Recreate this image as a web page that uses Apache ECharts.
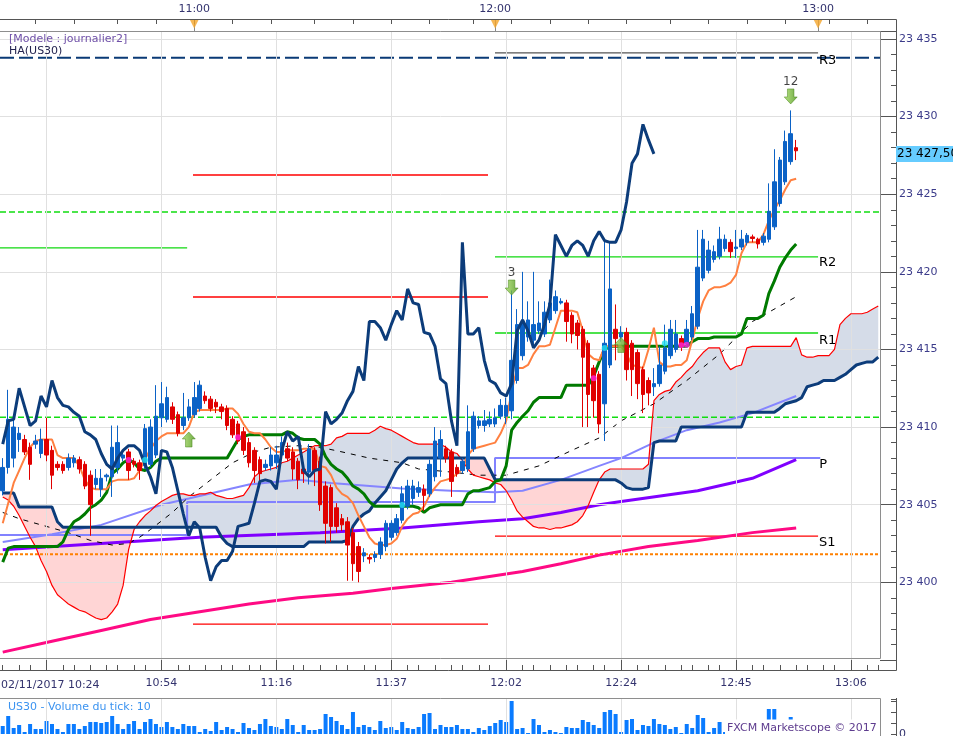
<!DOCTYPE html>
<html><head><meta charset="utf-8">
<script src="https://cdn.jsdelivr.net/npm/echarts@6.0.0/dist/echarts.min.js"></script>
<style>html,body{margin:0;padding:0;background:#fff;}#c{width:953px;height:736px;}</style>
</head><body><div id="c"></div>
<script>
// ---------------- DATA ----------------
const slots = []; for (let i = 0; i < 161; i++) slots.push(String(i));

const bottomTickIdx = [8, 29, 50, 71, 92, 113, 134, 155];
const bottomTickLabels = ['02/11/2017 10:24', '10:54', '11:16', '11:37', '12:02', '12:24', '12:45', '13:06'];
const topTickIdx = [35, 90, 149];
const topTickLabels = ['11:00', '12:00', '13:00'];
const priceTicks = [23400, 23405, 23410, 23415, 23420, 23425, 23430, 23435];

const haOpen = [
23405.9,23407.4,23408.0,23409.2,23409.2,23408.7,23408.9,23408.3,23409.2,23408.5,
23407.6,23407.6,23407.4,23407.7,23407.9,23407.6,23406.9,23406.3,23406.0,23406.8,
23406.8,23407.4,23408.0,23408.4,23407.8,23407.7,23407.5,23407.6,23408.2,23410.6,
23410.5,23411.3,23410.8,23410.1,23410.6,23410.8,23411.2,23412.0,23411.8,23411.6,
23411.3,23411.2,23410.5,23410.2,23409.7,23409.0,23408.5,23407.9,23407.4,23407.5,
23407.7,23408.2,23408.6,23408.4,23407.8,23407.3,23407.1,23408.5,23407.8,23406.2,
23406.1,23404.8,23404.1,23403.9,23403.2,23402.3,23401.7,23401.6,23401.6,23401.8,
23402.3,23402.9,23403.2,23404.0,23404.9,23405.4,23405.8,23406.0,23405.7,23406.8,
23408.0,23408.6,23408.4,23407.4,23407.2,23407.3,23408.6,23410.1,23410.1,23410.2,
23410.2,23410.7,23410.7,23411.05,23413.0,23414.6,23415.8,23415.6,23416.2,23416.0,
23416.9,23417.5,23418.0,23418.0,23417.2,23416.7,23416.3,23415.4,23413.8,23413.4,
23411.5,23414.0,23416.3,23415.8,23416.1,23415.4,23414.8,23413.7,23413.0,23412.6,
23412.8,23413.6,23414.6,23415.0,23415.7,23415.4,23415.8,23416.5,23419.6,23420.1,
23420.8,23421.0,23421.5,23421.9,23421.5,23421.6,23421.9,23422.25,23422.1,23421.9,
23422.1,23422.9,23424.4,23425.8,23427.1,23428.0];
const haClose = [
23407.4,23410.5,23410.0,23409.6,23408.4,23407.6,23409.1,23409.2,23408.2,23406.9,
23407.4,23407.2,23408.0,23408.0,23407.3,23406.2,23405.0,23406.7,23406.7,23406.9,
23408.7,23409.0,23408.2,23407.2,23407.6,23407.2,23409.9,23410.0,23410.7,23411.5,
23411.9,23410.5,23409.6,23410.6,23411.3,23411.9,23412.7,23411.7,23411.2,23411.3,
23411.0,23410.1,23409.5,23409.1,23408.5,23407.7,23407.2,23407.0,23407.6,23408.2,
23408.2,23409.0,23408.0,23407.3,23406.6,23407.0,23408.6,23407.2,23405.0,23403.8,
23403.6,23403.6,23403.7,23402.4,23401.2,23400.7,23401.9,23401.5,23401.8,23402.6,
23403.8,23403.8,23404.1,23405.7,23406.2,23406.2,23406.1,23405.6,23407.6,23409.1,
23409.2,23408.0,23406.5,23407.0,23407.8,23409.7,23410.7,23410.4,23410.4,23410.5,
23410.6,23411.4,23411.4,23414.3,23416.6,23416.7,23416.9,23416.6,23416.7,23417.4,
23418.0,23418.4,23418.1,23416.8,23416.0,23415.9,23414.5,23412.1,23411.7,23410.2,
23415.4,23418.9,23415.7,23416.1,23413.7,23413.7,23412.8,23412.1,23412.2,23412.8,
23414.0,23415.1,23416.3,23416.0,23415.2,23416.3,23417.3,23420.3,23422.1,23421.4,
23421.3,23422.1,23422.1,23421.3,23421.6,23422.1,23422.35,23422.15,23421.8,23422.3,
23423.9,23425.8,23427.2,23428.4,23428.9,23427.8];
const haLow = [
23405.6,23407.0,23407.4,23408.4,23408.2,23406.6,23408.6,23408.0,23407.8,23406.0,
23407.2,23407.0,23407.2,23407.4,23407.0,23406.0,23403.0,23406.0,23405.5,23406.5,
23405.5,23407.0,23407.8,23406.6,23407.4,23406.6,23407.3,23407.4,23408.0,23410.0,
23410.3,23410.2,23409.4,23409.8,23410.4,23410.6,23411.0,23411.5,23411.0,23410.9,
23410.5,23409.8,23409.3,23408.9,23408.2,23407.4,23406.4,23406.5,23407.2,23407.2,
23407.3,23407.9,23407.8,23406.6,23406.0,23406.4,23406.3,23406.2,23404.6,23402.5,
23402.6,23403.2,23403.3,23400.1,23400.1,23400.0,23401.3,23401.2,23401.3,23401.5,
23402.0,23402.7,23403.0,23403.8,23404.7,23405.0,23405.5,23404.6,23405.5,23406.5,
23406.8,23407.7,23405.5,23406.8,23407.0,23407.1,23408.4,23409.9,23409.7,23410.0,
23410.0,23410.5,23410.2,23410.5,23412.8,23414.3,23415.5,23415.3,23416.0,23415.8,
23416.7,23417.3,23417.9,23415.5,23415.4,23415.0,23410.0,23410.0,23410.6,23409.6,
23409.1,23413.8,23414.3,23415.5,23413.0,23412.0,23411.8,23410.9,23411.4,23412.0,
23412.6,23413.4,23414.4,23414.8,23414.9,23415.2,23415.6,23416.3,23419.4,23419.9,
23420.6,23420.8,23421.3,23420.9,23420.9,23421.4,23421.7,23421.9,23421.5,23421.7,
23421.9,23422.7,23424.2,23425.6,23426.9,23427.2];
const haHigh = [
23408.0,23412.4,23410.6,23410.0,23409.5,23409.0,23409.5,23409.9,23410.6,23408.8,
23407.8,23407.8,23408.3,23408.2,23408.1,23407.8,23407.2,23407.3,23407.3,23407.0,
23410.1,23410.1,23408.5,23408.6,23408.0,23407.9,23410.2,23410.5,23412.7,23412.9,
23412.6,23411.6,23411.0,23412.2,23411.8,23412.9,23413.0,23412.3,23412.0,23411.8,
23411.5,23411.4,23410.7,23410.4,23410.0,23409.3,23408.7,23408.1,23407.9,23408.7,
23408.8,23409.4,23409.0,23408.7,23408.0,23407.6,23408.9,23408.7,23408.1,23406.5,
23406.3,23405.1,23404.4,23404.2,23403.5,23402.6,23402.2,23401.8,23402.0,23402.9,
23404.0,23404.0,23404.4,23406.2,23406.6,23406.6,23406.5,23406.3,23407.9,23410.0,
23409.8,23408.8,23408.6,23407.6,23408.0,23411.4,23411.0,23410.7,23411.1,23411.0,
23411.2,23411.8,23411.9,23418.8,23417.6,23420.0,23418.1,23420.0,23418.1,23418.1,
23419.5,23418.8,23418.3,23418.2,23417.4,23416.9,23416.5,23415.6,23414.0,23413.6,
23422.1,23421.9,23417.9,23416.5,23416.4,23415.6,23415.0,23413.9,23413.2,23413.8,
23415.2,23416.6,23416.9,23416.9,23415.9,23416.9,23417.8,23422.7,23422.7,23422.0,
23421.7,23422.9,23422.4,23422.1,23422.7,23422.7,23422.5,23422.4,23422.2,23422.5,
23425.7,23427.9,23427.4,23429.1,23430.4,23428.5];

const tickVolume = [
8,18,6,9,2,10,5,5,13,10, 5,2,10,10,5,8,12,12,11,12, 18,10,5,10,13,5,12,15,10,7,
12,7,5,10,8,8,2,5,3,12, 4,7,5,2,11,6,4,10,15,8, 7,5,15,9,2,9,4,4,5,20,
17,13,9,5,22,7,9,7,4,13, 6,7,4,12,6,5,7,20,21,5, 9,7,7,9,5,5,2,6,4,8,
11,14,12,33,5,6,1,15,9,2, 4,2,1,7,6,6,14,12,9,6, 22,24,20,2,14,15,4,9,8,15,
10,9,5,7,1,10,6,19,16,2, 6,12,2,8,10,12,6,9,7,11, 25,25,10,8,17,10];

const tenkan = [
23403.8,23405.1,23406.4,23407.2,23408.0,23408.7,23409.1,23409.2,23409.2,23409.2,
23408.2,23408.0,23408.0,23408.0,23407.5,23406.6,23406.1,23406.0,23406.0,23406.0,
23406.5,23406.6,23406.6,23406.6,23406.7,23407.2,23407.9,23408.6,23409.1,23409.4,
23409.6,23409.6,23409.6,23409.6,23410.0,23410.95,23411.1,23411.1,23411.1,23411.1,
23411.1,23411.2,23411.2,23410.85,23410.2,23409.7,23409.6,23409.6,23409.2,23408.7,
23408.4,23408.4,23408.5,23408.5,23408.5,23408.6,23408.6,23408.6,23407.5,23407.4,
23406.9,23406.1,23405.7,23405.5,23405.1,23404.3,23403.6,23402.9,23402.5,23402.4,
23402.4,23402.5,23402.8,23403.6,23404.1,23404.4,23404.5,23404.9,23405.6,23406.1,
23406.5,23406.6,23406.7,23407.0,23407.3,23408.2,23408.6,23408.7,23408.8,23408.9,
23409.0,23409.6,23410.4,23412.3,23413.8,23413.8,23414.0,23414.7,23415.2,23415.2,
23415.3,23416.4,23417.5,23417.5,23417.5,23417.4,23416.2,23414.7,23414.4,23414.3,
23415.2,23415.2,23415.2,23415.2,23414.7,23414.0,23413.9,23413.8,23415.0,23416.4,
23414.2,23413.9,23413.9,23414.0,23414.0,23414.3,23415.6,23417.0,23418.1,23418.8,
23419.0,23419.0,23419.1,23419.3,23419.8,23421.2,23421.9,23421.9,23421.9,23422.4,
23423.3,23424.0,23424.6,23425.3,23425.9,23426.0];

const kijun = [
23401.3,23402.2,23402.3,23402.3,23402.3,23402.3,23402.3,23402.3,23402.3,23402.3,
23402.3,23402.6,23403.4,23403.9,23404.1,23404.4,23404.8,23405.0,23405.3,23405.8,
23407.0,23407.3,23407.7,23407.9,23407.7,23407.3,23407.2,23407.4,23407.8,23408.0,
23408.0,23408.0,23408.0,23408.0,23408.0,23408.0,23408.0,23408.0,23408.0,23408.0,
23408.0,23408.0,23408.6,23409.2,23409.4,23409.5,23409.5,23409.5,23409.5,23409.5,
23409.5,23409.5,23409.7,23409.6,23409.3,23409.2,23409.2,23409.2,23408.9,23408.1,
23407.6,23407.3,23407.1,23406.7,23406.2,23406.0,23405.7,23405.2,23404.9,23404.9,
23404.9,23404.9,23404.9,23404.9,23404.9,23404.9,23404.8,23404.5,23404.8,23404.9,
23405.0,23405.0,23405.0,23405.0,23405.0,23405.7,23405.9,23405.9,23406.0,23406.1,
23406.5,23406.6,23407.5,23409.8,23410.3,23410.7,23411.05,23411.6,23411.9,23411.9,
23411.9,23411.9,23411.9,23412.7,23412.7,23412.7,23412.7,23412.7,23413.3,23414.2,
23415.0,23415.2,23415.2,23415.2,23415.2,23415.2,23415.2,23415.2,23415.2,23415.2,
23415.2,23415.2,23415.2,23415.2,23415.2,23415.2,23415.5,23415.7,23415.7,23415.7,
23415.8,23415.8,23415.8,23415.8,23415.8,23416.0,23417.0,23417.0,23417.0,23417.2,
23418.6,23419.4,23420.3,23420.9,23421.4,23421.8];

const chikou = [
23408.9,23410.4,23410.5,23412.5,23411.3,23410.1,23410.4,23412.0,23411.3,23413.0,
23411.9,23411.4,23411.3,23410.95,23410.7,23409.7,23409.5,23409.2,23408.3,23407.6,
23407.3,23408.0,23408.5,23408.8,23408.8,23408.5,23407.6,23406.8,23405.7,23408.5,
23408.4,23407.4,23405.9,23404.4,23403.0,23403.9,23403.5,23401.6,23400.1,23401.0,
23401.4,23401.4,23402.0,23403.6,23403.7,23403.8,23405.1,23406.5,23406.6,23406.5,
23406.0,23408.5,23409.7,23409.1,23409.4,23407.2,23406.8,23407.2,23407.3,23411.0,
23410.2,23410.5,23410.9,23411.7,23412.3,23413.9,23413.0,23416.8,23416.8,23416.4,
23415.6,23416.6,23417.5,23416.9,23418.9,23418.0,23417.9,23416.1,23416.0,23415.2,
23413.1,23412.8,23410.4,23408.8,23421.9,23416.0,23416.0,23416.4,23414.3,23413.0,
23412.8,23412.2,23412.0,23412.8,23416.2,23416.9,23416.2,23415.1,23415.6,23416.6,
23417.9,23422.4,23421.7,23421.0,23421.7,23422.0,23421.7,23421.0,23422.0,23422.6,
23422.0,23421.9,23421.9,23422.7,23424.5,23427.0,23427.6,23429.5,23428.5,23427.6];

const senkouA = [
23405.5,23405.3,23404.9,23404.3,23403.6,23402.9,23402.3,23401.4,23400.7,23399.8,
23399.2,23398.9,23398.6,23398.4,23398.2,23398.1,23397.9,23397.7,23397.6,23397.7,
23398.1,23398.6,23399.8,23402.1,23403.4,23403.9,23404.3,23404.6,23404.95,23405.2,
23405.4,23405.6,23405.7,23405.7,23405.6,23405.6,23405.7,23405.7,23405.8,23405.6,
23405.5,23405.4,23405.4,23405.5,23405.6,23406.1,23406.8,23407.1,23407.2,23407.3,
23407.4,23407.7,23407.8,23408.0,23408.2,23408.4,23408.6,23408.8,23408.8,23408.8,
23408.9,23409.3,23409.4,23409.6,23409.6,23409.6,23409.6,23409.6,23409.8,23410.05,
23409.9,23409.8,23409.6,23409.4,23409.2,23409.0,23408.9,23408.9,23408.9,23408.9,
23408.9,23408.7,23408.4,23408.3,23407.85,23407.3,23406.9,23406.8,23406.7,23406.6,
23406.4,23406.3,23405.9,23405.3,23404.6,23404.2,23403.9,23403.6,23403.5,23403.5,
23403.4,23403.5,23403.5,23403.6,23403.7,23403.9,23404.3,23404.95,23405.8,23406.6,
23407.1,23407.3,23407.3,23407.3,23407.3,23407.3,23407.3,23407.3,23407.6,23411.7,
23412.1,23412.3,23412.4,23412.9,23413.2,23413.6,23413.9,23414.4,23414.8,23415.1,
23415.1,23415.1,23414.2,23413.7,23413.9,23414.0,23415.1,23415.2,23415.2,23415.2,
23415.2,23415.2,23415.2,23415.2,23415.2,23415.76,23414.65,23414.5,23414.5,23414.6,
23414.6,23414.6,23415.0,23416.6,23417.0,23417.3,23417.3,23417.3,23417.4,23417.6,
23417.8];
const senkouB = [
23405.75,23405.75,23405.75,23404.85,23404.85,23404.85,23404.85,23404.85,23404.85,23404.85,
23403.9,23403.55,23403.55,23403.55,23403.55,23403.55,23403.55,23403.55,23403.55,23403.55,
23403.55,23403.55,23403.55,23403.55,23403.55,23403.55,23403.55,23403.55,23403.55,23403.55,
23403.55,23403.55,23403.55,23403.55,23403.55,23403.55,23403.55,23403.55,23403.55,23403.55,
23402.9,23402.5,23402.3,23402.3,23402.3,23402.3,23402.3,23402.3,23402.3,23402.3,
23402.3,23402.3,23402.3,23402.3,23402.3,23402.3,23402.6,23402.6,23402.6,23402.6,
23402.6,23402.6,23402.6,23402.7,23403.6,23404.1,23404.4,23404.6,23405.1,23405.5,
23405.9,23406.6,23407.3,23407.7,23408.0,23408.0,23408.0,23408.0,23408.0,23408.0,
23408.0,23408.0,23408.0,23408.0,23408.0,23408.0,23408.0,23408.0,23408.0,23407.3,
23406.6,23406.6,23406.6,23406.6,23406.6,23406.6,23406.6,23406.6,23406.6,23406.6,
23406.6,23406.6,23406.6,23406.6,23406.6,23406.6,23406.6,23406.6,23406.6,23406.6,
23406.6,23406.6,23406.6,23406.4,23406.1,23406.0,23406.0,23406.0,23406.1,23409.0,
23409.1,23409.1,23409.1,23409.1,23410.0,23410.0,23410.0,23410.0,23410.0,23410.0,
23410.0,23410.0,23410.0,23410.0,23410.0,23410.0,23410.95,23410.95,23410.95,23410.95,
23410.95,23410.95,23411.2,23411.5,23411.6,23411.7,23411.9,23412.6,23412.7,23412.8,
23413.0,23413.0,23413.0,23413.2,23413.4,23413.7,23414.0,23414.1,23414.2,23414.2,
23414.5];

// moving averages (sampled points: slot index, value)
const maLavIdx = [0, 9, 18, 29, 34, 45, 54, 60, 73, 82, 90, 95, 102, 109, 113, 119, 125, 131, 137, 145];
const maLavVal = [23402.6, 23403.1, 23403.7, 23405.0, 23405.4, 23406.3, 23406.6, 23406.4, 23406.05, 23405.9, 23405.8, 23405.9, 23406.6, 23407.5, 23408.0, 23409.0, 23409.8, 23410.3, 23410.9, 23412.0];
const maVioIdx = [0, 18, 36, 58, 73, 87, 95, 102, 109, 113, 127, 137, 145];
const maVioVal = [23402.1, 23402.5, 23402.9, 23403.2, 23403.5, 23403.9, 23404.1, 23404.5, 23405.0, 23405.2, 23405.9, 23406.7, 23407.9];
const maMagIdx = [0, 9, 18, 27, 36, 45, 54, 64, 71, 82, 95, 102, 109, 118, 127, 137, 145];
const maMagVal = [23395.5, 23396.2, 23396.9, 23397.6, 23398.1, 23398.6, 23399.0, 23399.3, 23399.6, 23400.0, 23400.7, 23401.2, 23401.75, 23402.3, 23402.7, 23403.2, 23403.5];
const regIdx = [0, 3, 7, 12, 16, 20, 23, 25, 27, 31, 34, 38, 42, 46, 49, 54, 58, 62, 67, 73, 76, 82, 87, 92, 98, 104, 109, 113, 119, 125, 131, 137, 145];
const regVal = [23404.5, 23404.1, 23403.7, 23403.2, 23402.7, 23402.4, 23402.5, 23402.9, 23403.4, 23404.5, 23405.5, 23406.6, 23407.7, 23408.4, 23408.7, 23408.8, 23408.7, 23408.4, 23408.0, 23407.7, 23407.3, 23407.1, 23406.9, 23406.9, 23407.5, 23408.5, 23409.3, 23410.4, 23411.5, 23413.0, 23414.7, 23416.8, 23418.4];

// horizontal levels (x in slot units)
const fullSpan = [-0.5, 160.5];
const hourSpans = [[-0.5, 33.7], [34.77, 88.68], [89.96, 149.0]];
const r3Level = 23433.80;
const r4Level = 23434.10;
const greenDashLevels = [23423.86, 23410.63];
const orangeDotLevel = 23401.80;
const hour0Green = [23421.54];
const hour1Red = [23426.24, 23418.38, 23397.31];
const pivotR2 = 23420.96, pivotR1 = 23416.06, pivotS1 = 23402.98;
const pivotPSteps = [23403.05, 23405.17, 23408.01];
const pivotPEnd = 149.4;

// signals
const downSignalIdx = [93, 144], downSignalVal = [23418.99, 23431.30], downSignalText = ['3', '12'];
const upSignalIdx = [34, 113], upSignalVal = [23409.2, 23415.29];
const magentaDotIdx = [23, 43, 108, 124, 125], magentaDotVal = [23407.88, 23409.35, 23413.15, 23415.27, 23415.3];
const cyanDotIdx = [26, 73, 110, 121], cyanDotVal = [23407.88, 23404.98, 23415.1, 23415.4];
const hourMarkLevel = 23435.97;
const lastPrice = '23 427,50';

// ---------------- CHART ----------------
const FONT = '"DejaVu Sans", Verdana, sans-serif';
const NAVY = '#33336e';
const UP = '#0b62c6', DOWN = '#e00000', DKBLUE = '#0c3c7a';

const bottomMajor = new Set(bottomTickIdx);
const bottomMinor = new Set();
for (let k = -3; k < 70; k++) { const v = Math.round(8 + k * 21 / 8); if (v >= 0 && v <= 160) bottomMinor.add(v); }
const topMinor = new Set();
for (let k = -5; k < 20; k++) { const v = Math.round(35 + k * 7.22); if (v >= 0 && v <= 160) topMinor.add(v); }
const topMajor = new Set(topTickIdx);

const pair = (idx, val) => idx.map((x, i) => [x, val[i]]);
const cloudLow = senkouA.map((a, i) => Math.min(a, senkouB[i]));
const cloudUp = senkouA.map((a, i) => Math.max(a - senkouB[i], 0));
const cloudDown = senkouA.map((a, i) => Math.max(senkouB[i] - a, 0));
const fmtPrice = v => String(v).replace(/(\d{2})(\d{3})$/, '$1 $2');

function seg(x0, x1, y, color, width, type, extra) {
  return Object.assign({type: 'line', xAxisIndex: 5, yAxisIndex: 0, data: [[x0, y], [x1, y]], symbol: 'none',
    silent: true, lineStyle: {color: color, width: width, type: type || 'solid'}, z: 3}, extra || {});
}
function endLbl(t, dy) {
  return {endLabel: {show: true, formatter: t, distance: 0, offset: [1, dy], color: '#000', fontSize: 13, fontFamily: FONT}};
}
const lineBase = (data, color, width, z, type) => ({type: 'line', xAxisIndex: 0, yAxisIndex: 0, data: data, symbol: 'none',
  silent: true, lineStyle: {color: color, width: width, type: type || 'solid'}, z: z});

const series = [];
series.push({type: 'line', xAxisIndex: 0, yAxisIndex: 0, data: cloudLow, stack: 'cloud', symbol: 'none', silent: true,
  lineStyle: {opacity: 0}, z: 1,
  markLine: {silent: true, symbol: ['none', 'none'], label: {show: false}, emphasis: {disabled: true},
    lineStyle: {color: '#e0e0e0', width: 1, type: 'solid'},
    data: priceTicks.map(v => ({yAxis: v})).concat(bottomTickIdx.map(i => ({xAxis: i})))}});
series.push({type: 'line', xAxisIndex: 0, yAxisIndex: 0, data: cloudUp, stack: 'cloud', symbol: 'none', silent: true,
  lineStyle: {opacity: 0}, areaStyle: {color: '#d5dce8', opacity: 1}, z: 1});
series.push({type: 'line', xAxisIndex: 0, yAxisIndex: 0, data: cloudDown, stack: 'cloud', symbol: 'none', silent: true,
  lineStyle: {opacity: 0}, areaStyle: {color: '#ffd5d5', opacity: 1}, z: 1});

// level lines
greenDashLevels.forEach(l => series.push(seg(fullSpan[0], fullSpan[1], l, '#11dd11', 1.5, [6, 3])));
series.push(seg(fullSpan[0], fullSpan[1], orangeDotLevel, '#ff8000', 2, [3, 2]));
series.push(seg(fullSpan[0], fullSpan[1], r3Level, '#0a3a76', 2, [14, 5]));
hour0Green.forEach(l => series.push(seg(hourSpans[0][0], hourSpans[0][1], l, '#11d811', 1.3)));
hour1Red.forEach(l => series.push(seg(hourSpans[1][0], hourSpans[1][1], l, '#ff0000', 1.3)));
series.push(seg(hourSpans[2][0], hourSpans[2][1], r4Level, '#555555', 1.2, 'solid', endLbl('R3', 8)));
series.push(seg(hourSpans[2][0], hourSpans[2][1], pivotR2, '#11d811', 1.3, 'solid', endLbl('R2', 6)));
series.push(seg(hourSpans[2][0], hourSpans[2][1], pivotR1, '#11d811', 1.3, 'solid', endLbl('R1', 8)));
series.push(seg(hourSpans[2][0], hourSpans[2][1], pivotS1, '#ff0000', 1.3, 'solid', endLbl('S1', 7)));
series.push({type: 'line', xAxisIndex: 5, yAxisIndex: 0, symbol: 'none', silent: true, z: 3,
  data: [[hourSpans[0][0], pivotPSteps[0]], [hourSpans[0][1], pivotPSteps[0]], [hourSpans[0][1], pivotPSteps[1]],
         [hourSpans[2][0], pivotPSteps[1]], [hourSpans[2][0], pivotPSteps[2]], [pivotPEnd, pivotPSteps[2]]],
  lineStyle: {color: '#8282ff', width: 2}, endLabel: {show: true, formatter: 'P', distance: 0, offset: [-1, 7], color: '#000', fontSize: 13, fontFamily: FONT}});

// moving averages
series.push(lineBase(pair(maMagIdx, maMagVal), '#ff0a84', 3, 4));
series.push(lineBase(pair(maVioIdx, maVioVal), '#8000ff', 3, 4));
series.push(lineBase(pair(maLavIdx, maLavVal), '#8585ff', 2, 4));
series.push(lineBase(pair(regIdx, regVal), '#000000', 1, 4, [5, 6]));
// ichimoku
series.push(lineBase(senkouA, '#ff0000', 1.2, 5));
series.push(lineBase(senkouB, DKBLUE, 3, 5));
series.push(lineBase(kijun, '#007a00', 3, 6));
series.push(lineBase(tenkan, '#ff8040', 2, 6));
series.push({type: 'candlestick', xAxisIndex: 0, yAxisIndex: 0, barWidth: 4, silent: true, z: 7,
  data: haOpen.map((o, i) => [o, haClose[i], haLow[i], haHigh[i]]),
  itemStyle: {color: UP, color0: DOWN, borderColor: UP, borderColor0: DOWN, borderWidth: 1}});
series.push(lineBase(chikou, DKBLUE, 3, 8));
// dots and signals
series.push({type: 'scatter', xAxisIndex: 0, yAxisIndex: 0, data: pair(magentaDotIdx, magentaDotVal), symbolSize: 6,
  itemStyle: {color: '#ff22dd'}, silent: true, z: 9});
series.push({type: 'scatter', xAxisIndex: 0, yAxisIndex: 0, data: pair(cyanDotIdx, cyanDotVal), symbolSize: 6,
  itemStyle: {color: '#22e0f0'}, silent: true, z: 9});
const arrowFill = {type: 'linear', x: 0, y: 0, x2: 1, y2: 0, colorStops: [{offset: 0, color: '#a6dc62'}, {offset: 1, color: '#4b9418'}]};
series.push({type: 'scatter', xAxisIndex: 0, yAxisIndex: 0, data: pair(downSignalIdx, downSignalVal),
  symbol: 'path://M3,0 L9,0 L9,8 L12,8 L6,15 L0,8 L3,8 Z', symbolSize: [13, 15], silent: true, z: 10,
  itemStyle: {color: arrowFill, borderColor: '#3f7f12', borderWidth: 0.6},
  label: {show: true, position: 'top', distance: 1, formatter: p => downSignalText[p.dataIndex], color: '#111', fontSize: 12, fontFamily: FONT}});
series.push({type: 'scatter', xAxisIndex: 0, yAxisIndex: 0, data: pair(upSignalIdx, upSignalVal),
  symbol: 'path://M6,0 L12,7 L9,7 L9,15 L3,15 L3,7 L0,7 Z', symbolSize: [13, 15], silent: true, z: 10,
  itemStyle: {color: arrowFill, borderColor: '#3f7f12', borderWidth: 0.6}});
series.push({type: 'scatter', xAxisIndex: 0, yAxisIndex: 0, clip: false, silent: true, z: 10,
  data: topTickIdx.map(i => [i, hourMarkLevel]), symbol: 'triangle', symbolRotate: 180, symbolSize: [9, 9],
  itemStyle: {color: '#f4a52a'}});
// volume
series.push({type: 'bar', xAxisIndex: 6, yAxisIndex: 2, data: tickVolume, barWidth: 4, silent: true,
  itemStyle: {color: '#0a7bff'},
  markLine: {silent: true, symbol: ['none', 'none'], label: {show: false}, emphasis: {disabled: true},
    lineStyle: {color: '#e0e0e0', width: 1, type: 'solid'}, data: bottomTickIdx.map(i => ({xAxis: i}))}});

const hidden = {axisLine: {show: false, onZero: false}, axisTick: {show: false}, axisLabel: {show: false}, splitLine: {show: false}};
const option = {
  animation: false,
  textStyle: {fontFamily: FONT},
  grid: [
    {left: 0, top: 31.24, width: 881, height: 628.68, containLabel: false, outerBoundsMode: 'none'},
    {left: 0, top: 699, width: 881, height: 35, containLabel: false, outerBoundsMode: 'none'}
  ],
  xAxis: [
    Object.assign({type: 'category', gridIndex: 0, data: slots}, hidden),
    {type: 'category', gridIndex: 0, data: slots, position: 'bottom', offset: 10.1,
      axisLine: {show: false, onZero: false},
      axisTick: {show: true, inside: true, length: 12, alignWithLabel: true, interval: i => bottomMajor.has(i), lineStyle: {color: '#555'}},
      axisLabel: {show: true, interval: i => bottomMajor.has(i) && i !== bottomTickIdx[0], margin: 8,
        formatter: v => bottomTickLabels[bottomTickIdx.indexOf(Number(v))] || '', color: NAVY, fontSize: 11, fontFamily: FONT},
      splitLine: {show: false}},
    {type: 'category', gridIndex: 0, data: slots, position: 'bottom', offset: 10.1,
      axisLine: {show: false, onZero: false},
      axisTick: {show: true, inside: true, length: 5, alignWithLabel: true, interval: i => bottomMinor.has(i), lineStyle: {color: '#555'}},
      axisLabel: {show: false}, splitLine: {show: false}},
    {type: 'category', gridIndex: 0, data: slots, position: 'top', offset: 12.24,
      axisLine: {show: false, onZero: false},
      axisTick: {show: true, inside: true, length: 12, alignWithLabel: true, interval: i => topMajor.has(i), lineStyle: {color: '#888'}},
      axisLabel: {show: true, interval: i => topMajor.has(i), margin: 4,
        formatter: v => topTickLabels[topTickIdx.indexOf(Number(v))] || '', color: NAVY, fontSize: 11, fontFamily: FONT},
      splitLine: {show: false}},
    {type: 'category', gridIndex: 0, data: slots, position: 'top', offset: 12.24,
      axisLine: {show: false, onZero: false},
      axisTick: {show: true, inside: true, length: 5, alignWithLabel: true, interval: i => topMinor.has(i), lineStyle: {color: '#555'}},
      axisLabel: {show: false}, splitLine: {show: false}},
    Object.assign({type: 'value', gridIndex: 0, min: -0.5, max: 160.5}, hidden),
    Object.assign({type: 'category', gridIndex: 1, data: slots}, hidden)
  ],
  yAxis: [
    {type: 'value', gridIndex: 0, position: 'right', offset: 15, min: 23395, max: 23435.5, interval: 5,
      axisLine: {show: false, onZero: false},
      axisTick: {show: true, inside: true, length: 16, lineStyle: {color: '#555'}},
      axisLabel: {show: true, margin: 3, color: '#3b3b8a', fontSize: 11, fontFamily: FONT,
        formatter: v => (v % 5 === 0 && v > 23395) ? fmtPrice(v) : ''},
      splitLine: {show: false}},
    {type: 'value', gridIndex: 0, position: 'right', offset: 15, min: 23395, max: 23435.5, interval: 1,
      axisLine: {show: false, onZero: false},
      axisTick: {show: true, inside: true, length: 5, lineStyle: {color: '#555'}},
      axisLabel: {show: false}, splitLine: {show: false}},
    {type: 'value', gridIndex: 1, position: 'right', offset: 15, min: 0, max: 35, interval: 11,
      axisLine: {show: true, onZero: false, lineStyle: {color: '#555'}},
      axisTick: {show: true, inside: true, length: 5, lineStyle: {color: '#555'}},
      axisLabel: {show: true, margin: 3, color: NAVY, fontSize: 11, fontFamily: FONT, formatter: v => v === 0 ? '0' : ''},
      splitLine: {show: false}}
  ],
  series: series,
  graphic: [
    {type: 'polyline', silent: true, z: 100, shape: {points: [[0, 19.5], [896.5, 19.5], [896.5, 670.5], [0, 670.5]]}, style: {stroke: '#555', fill: null, lineWidth: 1}},
    {type: 'polyline', silent: true, z: 100, shape: {points: [[0, 31.5], [880.5, 31.5], [880.5, 658.5], [0, 658.5]]}, style: {stroke: '#8e8e8e', fill: null, lineWidth: 1}},
    {type: 'polyline', silent: true, z: 100, shape: {points: [[0, 698.5], [880.5, 698.5], [880.5, 736]]}, style: {stroke: '#8e8e8e', fill: null, lineWidth: 1}},
    {type: 'line', silent: true, z: 100, shape: {x1: 896.5, y1: 698, x2: 896.5, y2: 736}, style: {stroke: '#555', lineWidth: 1}},
    {type: 'text', silent: true, z: 100, style: {text: '[Modele : journalier2]', x: 9, y: 39, verticalAlign: 'middle', fill: '#6f50a8', font: '11px ' + FONT}},
    {type: 'text', silent: true, z: 100, style: {text: 'HA(US30)', x: 9, y: 51, verticalAlign: 'middle', fill: '#23234f', font: '11px ' + FONT}},
    {type: 'text', silent: true, z: 100, style: {text: bottomTickLabels[0], x: 1, y: 685, verticalAlign: 'middle', fill: NAVY, font: '11px ' + FONT}},
    {type: 'text', silent: true, z: 100, style: {text: 'US30 - Volume du tick: ' + tickVolume[tickVolume.length - 1], x: 8, y: 707, verticalAlign: 'middle', fill: '#3b93f0', font: '11px ' + FONT}},
    {type: 'text', silent: true, z: 100, style: {text: 'FXCM Marketscope \u00a9 2017', x: 725, y: 728, verticalAlign: 'middle', fill: '#5e3c8e', font: '11px ' + FONT, backgroundColor: '#ffffff', padding: [3, 2, 3, 2]}},
    {type: 'rect', silent: true, z: 100, shape: {x: 896, y: 146, width: 57, height: 16}, style: {fill: '#66ccff'}},
    {type: 'text', silent: true, z: 101, style: {text: lastPrice, x: 897, y: 154, verticalAlign: 'middle', fill: '#000', font: '12px ' + FONT}}
  ]
};
const chart = echarts.init(document.getElementById('c'));
chart.setOption(option);
</script></body></html>
